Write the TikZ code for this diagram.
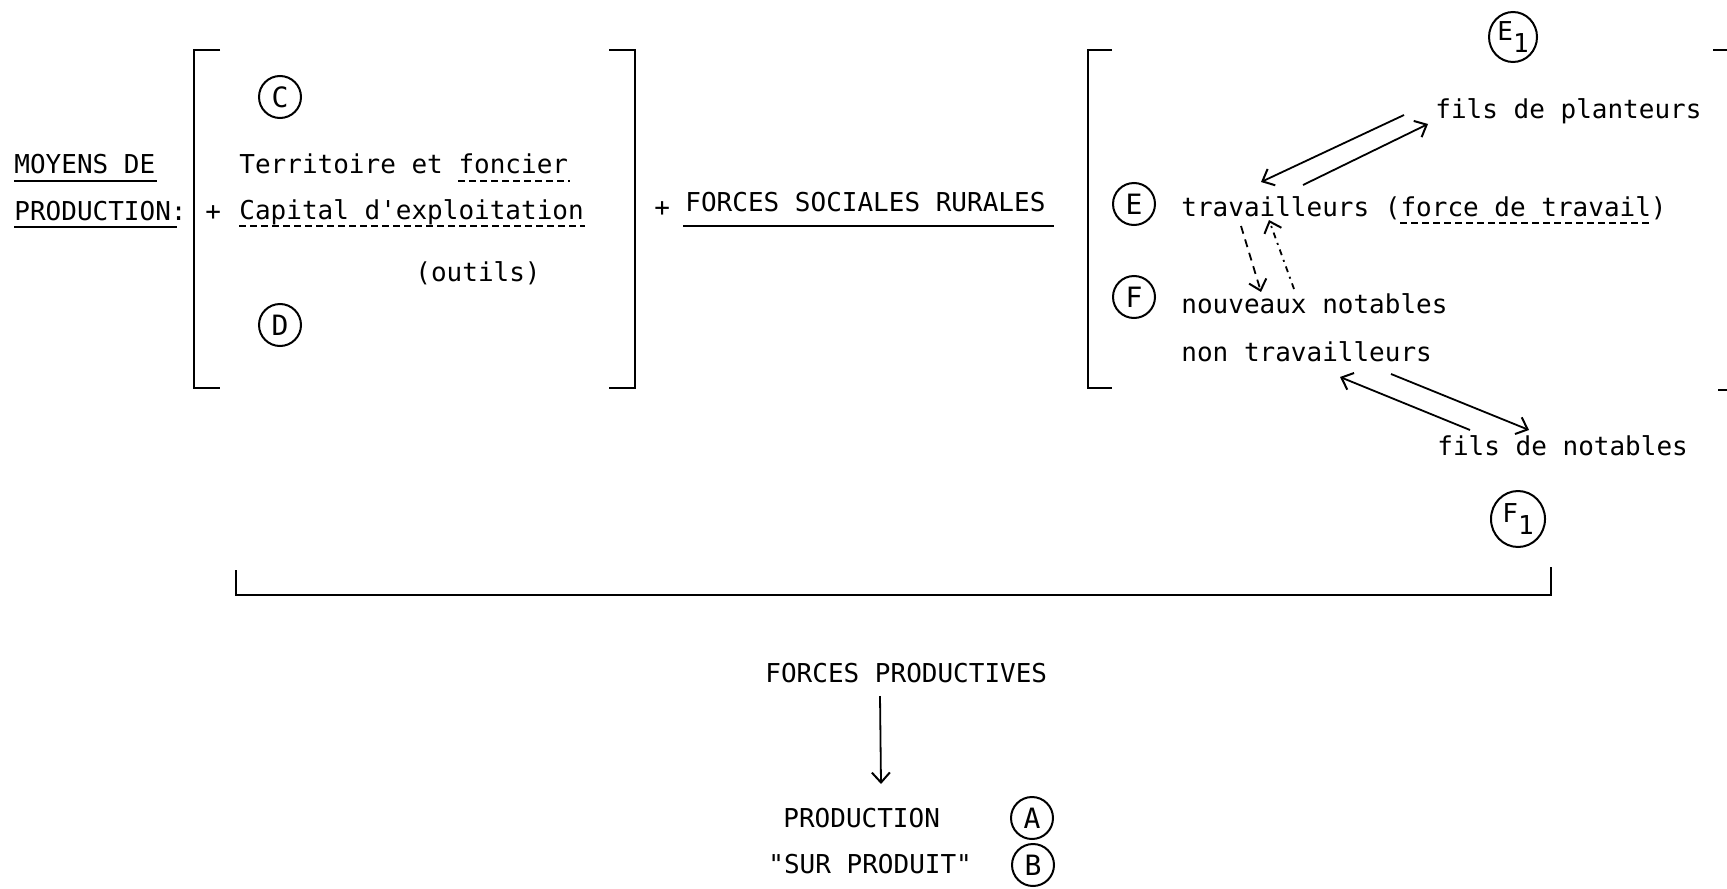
\documentclass[tikz,border=0pt]{standalone}
\usepackage{fontspec}
\newfontfamily\tw{DejaVu Sans Mono}
\usetikzlibrary{calc,arrows.meta,shapes.geometric}
\begin{document}
\begin{tikzpicture}[x=0.5pt,y=-0.5pt,
  txt/.style={font=\tw\fontsize{13pt}{15pt}\selectfont, anchor=base west, inner sep=0pt},
  circ/.style={draw, circle, line width=1pt, minimum size=21pt, inner sep=0pt,
               font=\tw\fontsize{14pt}{16pt}\selectfont},
  bigcirc/.style={draw, ellipse, line width=1pt, inner sep=0pt,
               font=\tw\fontsize{13pt}{15pt}\selectfont},
  brk/.style={line width=1pt},
  uline/.style={line width=1pt},
  dline/.style={line width=1pt, dash pattern=on 3.5pt off 2pt},
  arr/.style={line width=0.9pt, -{Straight Barb[length=5pt,width=9pt,line width=1pt]}},
  darr/.style={arr, dash pattern=on 4pt off 3pt},
  ddarr/.style={arr, dash pattern=on 3pt off 2.5pt on 1pt off 2.5pt}]
\useasboundingbox (0,0) rectangle (1727,888);

% left block
\node[txt] (moy) at (14,173) {MOYENS DE};
\node[txt] (prodm) at (14,220) {PRODUCTION:};
\draw[uline] (14,181) -- (157,181);
\draw[uline] (14,227) -- (177,227);

\draw[brk] (220,50) -- (194,50) -- (194,388) -- (220,388);
\node[txt] (plus1) at (205,220) {+};
\node[circ] (C) at (280,97) {C};
\node[txt] (terr) at (239,173) {Territoire et foncier};
\draw[dline] (458,181) -- (570,181);
\node[txt] (cap) at (239,219) {Capital d'exploitation};
\draw[dline] (239,226) -- (585,226);
\node[txt] (out) at (415,281) {(outils)};
\node[circ] (D) at (280,325) {D};
\draw[brk,line width=1.3pt] (609,50) -- (635,50) -- (635,388) -- (609,388);

% middle
\node[txt] (plus2) at (654,216) {+};
\node[txt] (fsr) at (685,211) {FORCES SOCIALES RURALES};
\draw[uline] (683,226) -- (1054,226);

% right block
\draw[brk] (1112,50) -- (1088,50) -- (1088,388) -- (1112,388);
\draw[brk] (1713,50) -- (1727,50);
\draw[brk] (1718,390) -- (1727,390);

\node[bigcirc, minimum width=24pt, minimum height=25pt] (E1) at (1513,37) {E\raisebox{-0.9ex}{1}};
\node[txt] (pl) at (1435,119) {fils de planteurs};
\node[circ] (E) at (1134,204) {E};
\node[txt] (tr) at (1181,216) {travailleurs (force de travail)};
\draw[dline] (1400,223) -- (1652,223);
\node[circ] (F) at (1134,297) {F};
\node[txt] (nn) at (1181,313) {nouveaux notables};
\node[txt] (nt) at (1181,361) {non travailleurs};
\node[txt] (fn) at (1437,455) {fils de notables};
\node[bigcirc, minimum width=27pt, minimum height=28pt] (F1) at (1518,519) {F\raisebox{-0.9ex}{1}};

\draw[arr] ($(pl.base west)+(-31,-4)$) -- ($(tr.base west)+(80,-34)$);
\draw[arr] ($(tr.base west)+(122,-31)$) -- ($(pl.base west)+(-7,5)$);
\draw[darr] ($(tr.base west)+(60,10)$) -- ($(nn.base west)+(80,-21)$);
\draw[ddarr] ($(nn.base west)+(113,-24)$) -- ($(tr.base west)+(88,4)$);
\draw[arr] ($(fn.base west)+(33,-25)$) -- ($(nt.base west)+(159,16)$);
\draw[arr] ($(nt.base west)+(210,13)$) -- ($(fn.base west)+(92,-25)$);

% bottom bracket
\draw[brk] (236,570) -- (236,595) -- (1551,595) -- (1551,567);

% bottom
\node[txt] (fp) at (765,682) {FORCES PRODUCTIVES};
\node[txt] (pr) at (783,827) {PRODUCTION};
\node[txt] (sp) at (768,873) {"SUR PRODUIT"};
\node[circ] (A) at (1032,818) {A};
\node[circ] (B) at (1033,865) {B};
\draw[arr] ($(fp.base west)+(115,14)$) -- ($(pr.base west)+(98,-43)$);
\end{tikzpicture}
\end{document}
